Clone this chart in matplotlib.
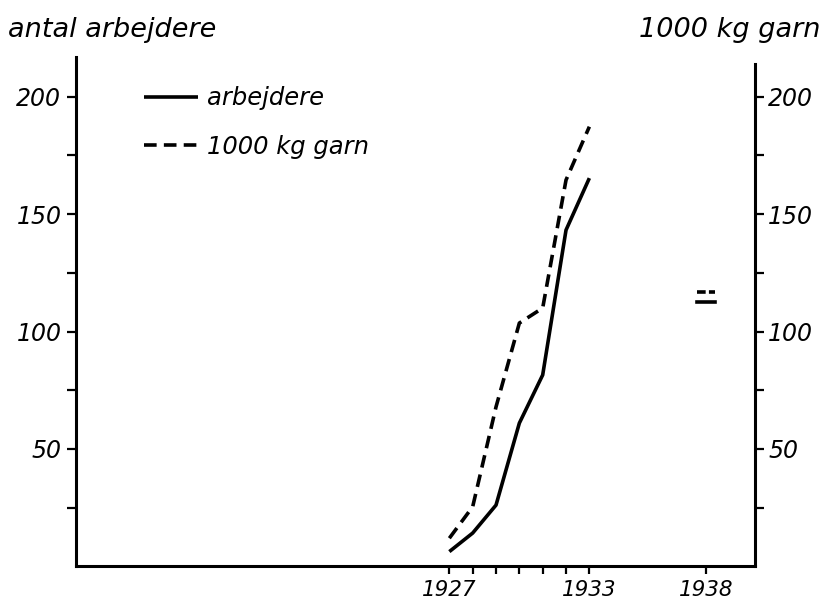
import matplotlib
matplotlib.use("Agg")
import matplotlib.pyplot as plt
from matplotlib.ticker import FixedLocator, NullFormatter

# data
years = [1927, 1928, 1929, 1930, 1931, 1932, 1933]
arbejdere = [6.3, 14.2, 26.1, 61, 81.5, 143.2, 165.3]
garn = [12, 25.4, 67.9, 103.6, 110, 164.5, 187.2]
year_1938 = 1938
arbejdere_1938 = 112.7
garn_1938 = 117

plt.rcParams['font.family'] = 'DejaVu Sans'
plt.rcParams['font.style'] = 'italic'

fig = plt.figure(figsize=(8.25, 6.05), dpi=100)
ax = fig.add_axes([0.0921, 0.0638, 0.8231, 0.8425])
ax2 = ax.twinx()

lw = 2.6
ax.plot(years, arbejdere, color='black', lw=lw, solid_capstyle='butt', label='arbejdere')
ax2.plot(years, garn, color='black', lw=lw, dashes=(3.5, 2), label='1000 kg garn')
# single 1938 values, shown as short strokes
ax.plot([year_1938 - 0.4, year_1938 + 0.4], [arbejdere_1938] * 2, color='black', lw=lw)
ax2.plot([year_1938 - 0.4, year_1938 + 0.4], [garn_1938] * 2, color='black', lw=lw, dashes=(2.4, 0.9))

ax.set_xlim(1911, 1940.1)
ax.set_ylim(0, 217)
ax2.set_ylim(0, 217)

for a in (ax, ax2):
    a.spines['top'].set_visible(False)
    for s in a.spines.values():
        s.set_linewidth(2.2)
ax.spines['right'].set_visible(False)
ax2.spines['left'].set_visible(False)
ax2.spines['bottom'].set_visible(False)
ax2.spines['right'].set_bounds(0, 214)

major = [50, 100, 150, 200]
minor = [25, 75, 125, 175]
for a in (ax, ax2):
    a.yaxis.set_major_locator(FixedLocator(major))
    a.yaxis.set_minor_locator(FixedLocator(minor))
    a.yaxis.set_minor_formatter(NullFormatter())
    a.tick_params(axis='y', which='both', direction='out', length=6.5, width=1.6, labelsize=17)
ax.tick_params(axis='y', pad=4)
ax2.tick_params(axis='y', pad=3)

ax.xaxis.set_major_locator(FixedLocator([1927, 1933, 1938]))
ax.xaxis.set_minor_locator(FixedLocator(years[1:-1]))
ax.xaxis.set_minor_formatter(NullFormatter())
ax.tick_params(axis='x', which='both', direction='out', length=6, width=1.6, labelsize=15.5, pad=4)

for lab in ax.get_xticklabels() + ax.get_yticklabels() + ax2.get_yticklabels():
    lab.set_fontstyle('italic')

h1, l1 = ax.get_legend_handles_labels()
h2, l2 = ax2.get_legend_handles_labels()
leg = ax.legend(h1 + h2, l1 + l2, loc='upper left', bbox_to_anchor=(0.068, 0.985),
                frameon=False, fontsize=17.5, handlelength=2.2, handletextpad=0.4,
                labelspacing=1.0)
for t in leg.get_texts():
    t.set_fontstyle('italic')

fig.text(0.01, 0.95, 'antal arbejdere', fontsize=19.5, style='italic', ha='left', va='center')
fig.text(0.994, 0.95, '1000 kg garn', fontsize=19.5, style='italic', ha='right', va='center')

fig.savefig('out.png', dpi=100)
